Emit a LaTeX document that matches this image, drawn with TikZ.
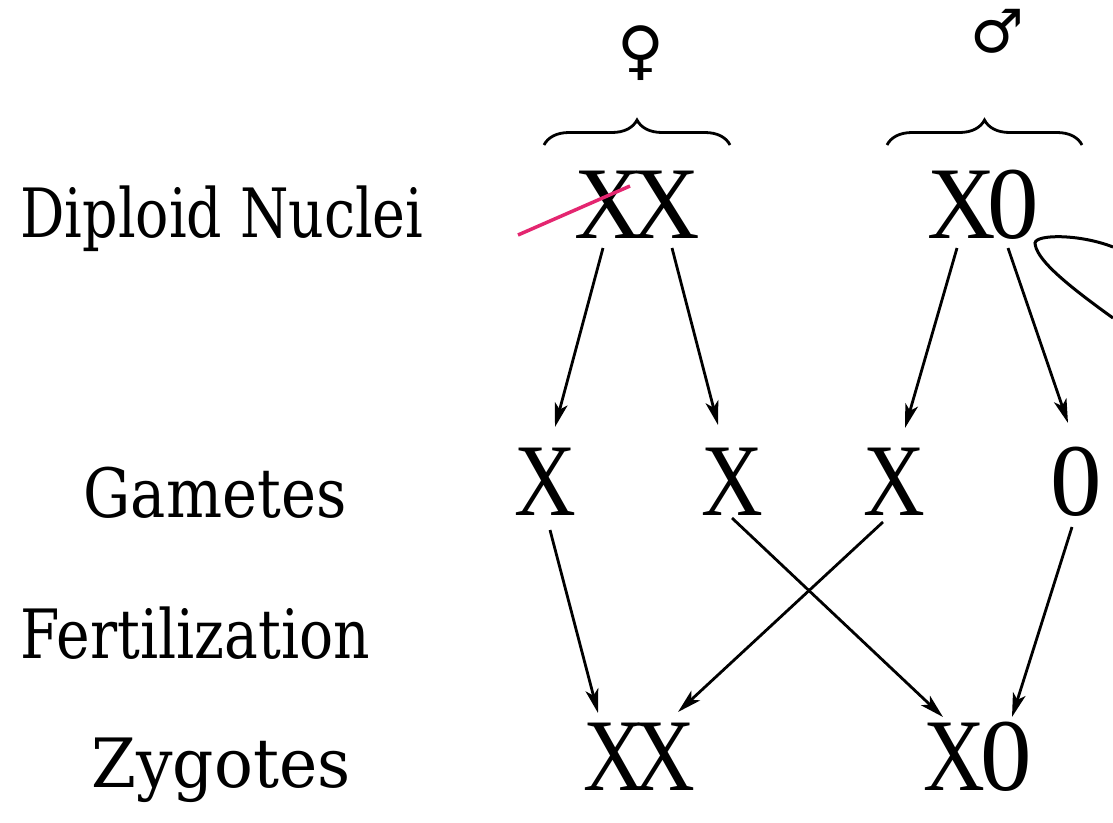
\documentclass[tikz,border=0pt]{standalone}
\usepackage{fontspec}
\setmainfont{DejaVu Serif}
\newfontfamily\chromfont{Liberation Serif}
\newfontfamily\symfont{DejaVu Sans}
\usetikzlibrary{calc,arrows.meta,decorations.pathreplacing}
\definecolor{penpink}{RGB}{228,38,112}
\newcommand\sX[1]{\scalebox{#1}[1]{X}}
\begin{document}
\begin{tikzpicture}[x=1pt,y=-1pt,
  rowlabel/.style={inner sep=0pt,anchor=base,font=\fontsize{68}{70}\selectfont},
  chrom/.style={inner sep=0pt,font=\chromfont\fontsize{103}{103}\selectfont},
  arr/.style={line width=2.8pt,-{Stealth[length=24pt,width=13pt,inset=6pt]}},
  bracestyle/.style={line width=2.8pt,decorate,decoration={brace,amplitude=25pt}}]
\useasboundingbox (0,0) rectangle (1113,822);
\fill[white] (0,0) rectangle (1113,822);

% row labels
\node[rowlabel] (ldip) at (222,237) {\scalebox{0.815}[1]{Diploid Nuclei}};
\node[rowlabel] (lgam) at (215,517) {\scalebox{0.87}[1]{Gametes}};
\node[rowlabel] (lfer) at (195,658) {\scalebox{0.834}[1]{Fertilization}};
\node[rowlabel] (lzyg) at (221,787) {\scalebox{0.95}[1]{Zygotes}};

% sex symbols
\node[inner sep=0pt,font=\symfont\fontsize{64}{64}\selectfont] (fem) at (641,53) {♀};
\node[inner sep=0pt,font=\symfont\fontsize{60}{60}\selectfont] (mal) at (997,31) {♂};

% braces
\coordinate (fbl) at (544,145);
\coordinate (fbr) at (730,145);
\coordinate (mbl) at (887,145);
\coordinate (mbr) at (1082,145);
\draw[bracestyle] (fbl) -- (fbr);
\draw[bracestyle] (mbl) -- (mbr);

% diploid nuclei
\node[chrom] (dxx) at (637,205) {\sX{0.92}\kern-11pt\sX{0.92}};
\node[chrom] (dxo) at (983,205) {\sX{0.92}\kern-8pt0};

% gametes
\node[chrom] (g1) at (545,482) {\sX{0.83}};
\node[chrom] (g2) at (732,482) {\sX{0.83}};
\node[chrom] (g3) at (894,482) {\sX{0.83}};
\node[chrom] (g4) at (1076,482) {0};

% zygotes
\node[chrom] (zxx) at (639,757) {\sX{0.83}\kern-12pt\sX{0.83}};
\node[chrom] (zxo) at (978,757) {\sX{0.83}\kern-5pt0};

% meiosis arrows
\draw[arr] ($(dxx)+(-34,43)$) -- ($(g1)+(10,-55)$);
\draw[arr] ($(dxx)+(35,43)$) -- ($(g2)+(-14,-57)$);
\draw[arr] ($(dxo)+(-26,43)$) -- ($(g3)+(11,-54)$);
\draw[arr] ($(dxo)+(25,43)$) -- ($(g4)+(-8,-59)$);

% fertilization arrows
\draw[arr] ($(g1)+(5,48)$) -- ($(zxx)+(-41,-44)$);
\draw[arr] ($(g2)+(0,36)$) -- ($(zxo)+(-35,-40)$);
\draw[arr] ($(g3)+(-11,40)$) -- ($(zxx)+(39,-45)$);
\draw[arr] ($(g4)+(-4,45)$) -- ($(zxo)+(34,-40)$);

% pink pen stroke
\coordinate (pk1) at (518,235);
\coordinate (pk2) at (630,186);
\draw[penpink,line width=3.5pt] (pk1) -- (pk2);

% oval cut by the right edge
\coordinate (ovu) at (1113,247);
\coordinate (ovt) at (1035,243);
\coordinate (ovl) at (1113,318);
\draw[line width=3pt] (ovu) .. controls (1080,234) and (1036,234) .. (ovt)
  .. controls (1036,258) and (1060,280) .. (ovl);
\end{tikzpicture}
\end{document}
